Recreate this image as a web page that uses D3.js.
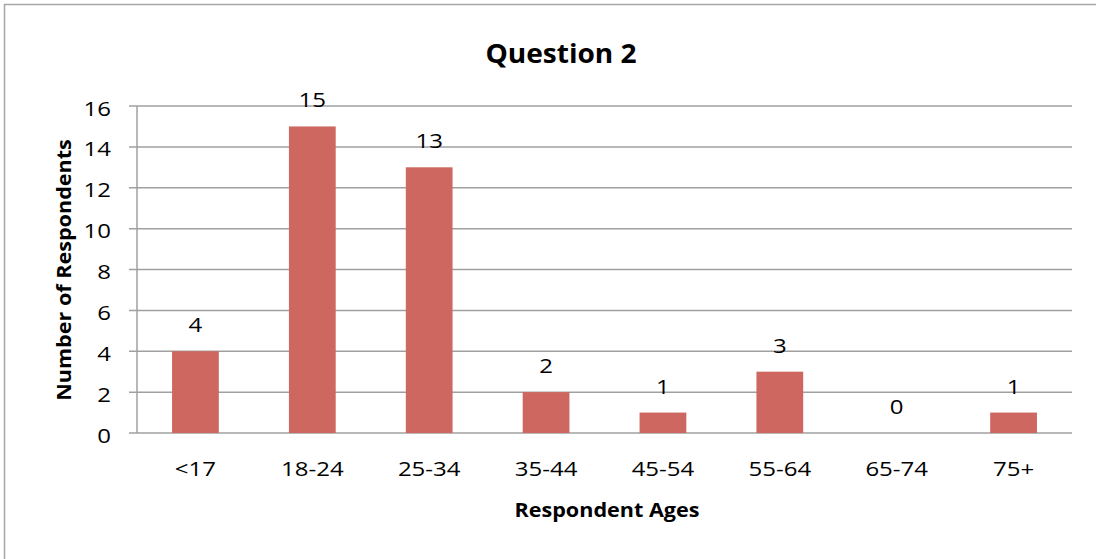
<!DOCTYPE html>
<html><head><meta charset="utf-8">
<script src="https://cdn.jsdelivr.net/npm/d3@7"></script>
<style>body{margin:0;background:#fff}svg{display:block}text{font-family:"Open Sans",Lato,sans-serif;fill:#000}</style>
</head><body>
<svg id="c" width="1096" height="559"></svg>
<script>
const categories = ["<17","18-24","25-34","35-44","45-54","55-64","65-74","75+"];
const values = [4,15,13,2,1,3,0,1];
const yTicks = [0,2,4,6,8,10,12,14,16];
const title = "Question 2";
const xTitle = "Respondent Ages";
const yTitle = "Number of Respondents";

(function(){
const svg = d3.select("#c");
svg.append("rect").attr("x",4.5).attr("y",4.5).attr("width",1100).attr("height",600)
  .attr("fill","#fff").attr("stroke","#a6a6a6").attr("stroke-width",1.5);

const pL=137, pR=1072, pT=106, pB=433;
const x = d3.scaleBand().domain(categories).range([pL,pR]).paddingInner(0.6).paddingOuter(0.3);
const y = d3.scaleLinear().domain([0,16]).range([pB,pT]);
const SX = 1.2, SXB = 1.08;

svg.append("g").selectAll("line").data(yTicks).join("line")
  .attr("x1",pL-8).attr("x2",pR).attr("y1",d=>y(d)).attr("y2",d=>y(d))
  .attr("stroke","#a0a0a0").attr("stroke-width",1.5);
svg.append("line").attr("x1",pL).attr("x2",pL).attr("y1",pT).attr("y2",pB)
  .attr("stroke","#a0a0a0").attr("stroke-width",1.5);

svg.append("g").selectAll("text").data(yTicks).join("text")
  .attr("transform",d=>`translate(111,${y(d)+9.5}) scale(${SX},1)`).attr("text-anchor","end")
  .style("font-size","20px").text(d=>d);

svg.append("g").selectAll("rect").data(values).join("rect")
  .attr("x",(d,i)=>x(categories[i])).attr("width",x.bandwidth())
  .attr("y",d=>y(d)).attr("height",d=>pB-y(d)).attr("fill","#cd675f");

svg.append("g").selectAll("text").data(values).join("text")
  .attr("transform",(d,i)=>`translate(${x(categories[i])+x.bandwidth()/2},${y(d)-19}) scale(${SX},1)`)
  .attr("text-anchor","middle").style("font-size","20px").text(d=>d);

svg.append("g").selectAll("text").data(categories).join("text")
  .attr("transform",d=>`translate(${x(d)+x.bandwidth()/2},476) scale(${SX},1)`)
  .attr("text-anchor","middle").style("font-size","20px").text(d=>d);

svg.append("text").attr("transform",`translate(561,63) scale(${SXB},1)`).attr("text-anchor","middle")
  .style("font-size","26px").style("font-weight","bold").text(title);
svg.append("text").attr("transform",`translate(607,517) scale(${SXB},1)`).attr("text-anchor","middle")
  .style("font-size","20px").style("font-weight","bold").text(xTitle);
svg.append("text").attr("transform",`translate(71,270) rotate(-90) scale(${SXB},1)`).attr("text-anchor","middle")
  .style("font-size","20px").style("font-weight","bold").text(yTitle);
})();
</script>
</body></html>
